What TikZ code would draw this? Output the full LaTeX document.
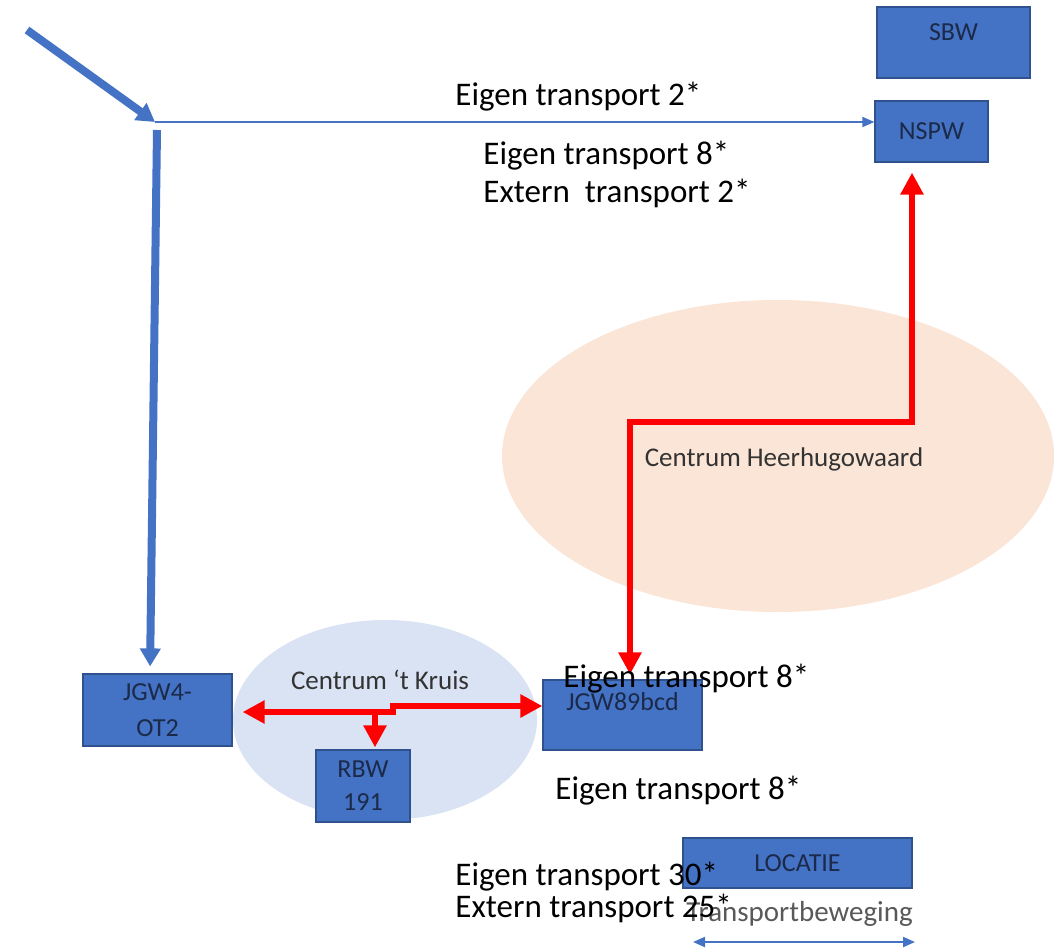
\documentclass[tikz,border=0pt]{standalone}
\usepackage{fontspec}
\setmainfont{Carlito}
\usetikzlibrary{arrows.meta, positioning}
\definecolor{boxblue}{HTML}{4472C4}
\definecolor{boxedge}{HTML}{2F528F}
\definecolor{boxtext}{HTML}{1C2A4A}
\definecolor{kruisfill}{HTML}{DAE3F3}
\definecolor{hhwfill}{HTML}{FBE5D6}
\tikzset{
    locbox/.style={
        rectangle,
        draw=boxedge,
        fill=boxblue,
        line width=0.6pt,
        text=boxtext,
        align=center,
        inner sep=0pt,
        font=\fontsize{13}{17}\selectfont
    },
    boxlabel/.style={text=boxtext, inner sep=0pt, font=\fontsize{13}{17}\selectfont},
    bigtext/.style={anchor=base west, inner sep=0pt, align=left, font=\fontsize{16.5}{19}\selectfont},
    centrumtext/.style={text=black!80, inner sep=0pt, font=\fontsize{13.5}{16}\selectfont},
    legendtext/.style={anchor=base west, text=black!65, inner sep=0pt, font=\fontsize{14.5}{16}\selectfont},
    bluethick/.style={draw=boxblue, line width=4pt, -{Triangle[length=9pt, width=10pt]}},
    bluethin/.style={draw=boxblue, line width=0.8pt, -{Triangle[length=6pt, width=5pt]}},
    redroute/.style={draw=red, line width=3pt, >={Triangle[length=11pt, width=11pt]}, <->},
    redbranch/.style={draw=red, line width=3pt, -{Triangle[length=11pt, width=11pt]}},
    legendarrow/.style={draw=boxblue, line width=1pt, {Triangle[length=6pt, width=5pt]}-{Triangle[length=6pt, width=5pt]}}
}
\begin{document}
\begin{tikzpicture}[x=0.5pt, y=-0.5pt]
    \fill[white] (0,0) rectangle (1054,952);
    \useasboundingbox (0,0) rectangle (1054,952);

    % centra
    \fill[hhwfill] (778,456) ellipse [x radius=138pt, y radius=78pt];
    \fill[kruisfill] (385,720) ellipse [x radius=76pt, y radius=50pt];
    \node[centrumtext] (hhw) at (784,459) {Centrum Heerhugowaard};
    \node[centrumtext] (kruis) at (380,680) {Centrum `t Kruis};

    % locaties
    \node[locbox, minimum width=76.5pt, minimum height=35.5pt,
        label={[boxlabel, yshift=5pt]center:SBW}] (sbw) at (953.5,42.5) {};
    \node[locbox, minimum width=56.5pt, minimum height=30.5pt] (nspw) at (931.5,131.5) {NSPW};
    \node[locbox, minimum width=74.5pt, minimum height=36pt,
        font=\fontsize{13}{18}\selectfont] (jgw4) at (157.5,710) {JGW4-\\OT2};
    \node[locbox, minimum width=79.5pt, minimum height=35pt,
        label={[boxlabel, yshift=6.5pt]center:JGW89bcd}] (jgw89) at (622.5,715) {};
    \node[locbox, minimum width=47pt, minimum height=36pt,
        font=\fontsize{13}{16.5}\selectfont] (rbw) at (363,786) {RBW\\191};
    \node[locbox, minimum width=114.5pt, minimum height=25pt] (locatie) at (797.5,863) {LOCATIE};

    % blauwe routes
    \coordinate (herkomst) at (27,30);
    \coordinate (splits) at (155,122);
    \coordinate (splitsonder) at (157,130);
    \draw[bluethick] (herkomst) -- (splits);
    \draw[bluethin] (splits) -- (splits -| nspw.west);
    \draw[bluethick, shorten >=3.5pt] (splitsonder) -- ([xshift=-3.75pt]jgw4.north);

    % rode routes
    \coordinate (knikoost) at (912,422);
    \coordinate (knikwest) at (630,422);
    \draw[redroute, shorten <=5pt, shorten >=2.5pt]
        (knikoost |- nspw.south) -- (knikoost) -- (knikwest) -- (knikwest |- jgw89.north);
    \coordinate (trapwest) at (393,712);
    \coordinate (trapoost) at (393,706);
    \draw[redroute, shorten <=5pt]
        (trapwest -| jgw4.east) -- (trapwest) -- (trapoost) -- (trapoost -| jgw89.west);
    \coordinate (aftak) at (375,712);
    \draw[redbranch, shorten >=1pt] (aftak) -- (aftak |- rbw.north);

    % legenda
    \node[legendtext] (beweging) at (686,921) {Transportbeweging};
    \coordinate (legendwest) at (693,942);
    \coordinate (legendoost) at (915,942);
    \draw[legendarrow] (legendwest) -- (legendoost);

    % aantallen (base = laatste regel)
    \node[bigtext] (eigen2) at (455,106) {Eigen transport 2*};
    \node[bigtext] (nspwaantal) at (483,203) {Eigen transport 8*\\Extern~ transport 2*};
    \node[bigtext] (jgw89boven) at (563,687) {Eigen transport 8*};
    \node[bigtext] (jgw89onder) at (555,799) {Eigen transport 8*};
    \node[bigtext, font=\fontsize{16.5}{16}\selectfont] (totaal) at (455,917) {Eigen transport 30*\\Extern transport 25*};

\end{tikzpicture}
\end{document}
